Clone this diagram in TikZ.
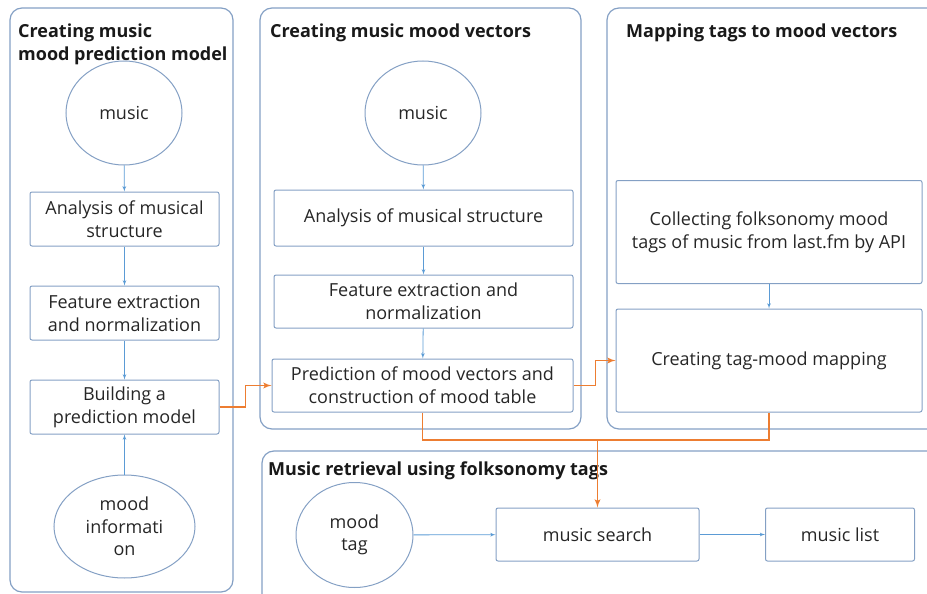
\documentclass[tikz,border=0pt]{standalone}
\usepackage{fontspec}
\setmainfont{Open Sans}
\usepackage{tikz}
\usetikzlibrary{positioning,arrows,calc,shapes.geometric}
\definecolor{boxline}{RGB}{132,160,196}
\definecolor{flowblue}{RGB}{91,155,213}
\definecolor{feedorange}{RGB}{237,125,49}
\tikzset{
    panel/.style = {
        draw=boxline,
        rounded corners=12pt,
        line width=1.2pt
    },
    title/.style = {
        font=\fontsize{18}{23}\selectfont\bfseries,
        text=black!90,
        align=left,
        inner sep=0pt,
        anchor=north west
    },
    block/.style = {
        draw=boxline,
        shape=rectangle,
        rounded corners=2pt,
        line width=1pt,
        align=center,
        text=black!85,
        font=\fontsize{18}{23}\selectfont,
        inner sep=0pt
    },
    bubble/.style = {
        draw=boxline,
        shape=ellipse,
        line width=1pt,
        align=center,
        text=black!85,
        font=\fontsize{18}{22.5}\selectfont,
        inner sep=0pt
    },
    link/.style = {
        draw=flowblue,
        line width=0.8pt
    },
    feed/.style = {
        draw=feedorange,
        line width=1.8pt
    },
    >=latex',
}

\begin{document}
\begin{tikzpicture}[x=1pt,y=-1pt]
                \clip (0,0) rectangle (927,594);

                \draw[panel] (10,8) rectangle (233,592);
                \draw[panel] (260,8) rectangle (581,429);
                \draw[panel] (607,8) rectangle (945,429);
                \draw[panel] (262,451) rectangle (945,615);

                \node[title] (t1) at (18,24) {Creating music\\mood prediction model};
                \node[title] (t2) at (270,24) {Creating music mood vectors};
                \node[title] (t3) at (626,24) {Mapping tags to mood vectors};
                \node[title] (t4) at (268,462) {Music retrieval using folksonomy tags};

                \node[bubble, minimum width=116, minimum height=104] (music1) at (124,113) {music};
                \node[block, minimum width=189, minimum height=54] (anal1) at (124.5,219) {Analysis of musical\\structure};
                \node[block, minimum width=189, minimum height=54] (feat1) at (124.5,313) {Feature extraction\\and normalization};
                \node[block, minimum width=189, minimum height=54] (build) at (124.5,407) {Building a\\prediction model};
                \node[bubble, minimum width=141, minimum height=103] (info) at (124.5,526.5) {mood\\informati\\on};

                \node[bubble, minimum width=116, minimum height=104] (music2) at (423,113) {music};
                \node[block, minimum width=299, minimum height=56] (anal2) at (423.5,218) {Analysis of musical structure};
                \node[block, minimum width=299, minimum height=53] (feat2) at (423.5,301.5) {Feature extraction and\\normalization};
                \node[block, minimum width=301, minimum height=53] (pred) at (422.5,385.5) {Prediction of mood vectors and\\construction of mood table};

                \node[block, minimum width=306, minimum height=103] (collect) at (769,232) {Collecting folksonomy mood\\tags of music from last.fm by API};
                \node[block, minimum width=306, minimum height=103] (mapping) at (769,360.5) {Creating tag-mood mapping};

                \node[bubble, minimum width=117, minimum height=105] (tag) at (354.5,535) {mood\\tag};
                \node[block, minimum width=203, minimum height=53] (search) at (597.5,534.5) {music search};
                \node[block, minimum width=149, minimum height=53] (list) at (840,534.5) {music list};

                \coordinate (merge) at (597.5,440);

                \path[link, ->] (music1) -- (anal1);
                \path[link, ->] (anal1) -- (feat1);
                \path[link, ->] (feat1) -- (build);
                \path[link, ->] (info) -- (build);
                \path[link, ->] (music2) -- (anal2);
                \path[link, ->] (anal2) -- (feat2);
                \path[link, ->] (feat2) -- (pred);
                \path[link, ->] (collect) -- (mapping);
                \path[link, ->] (tag) -- (search);
                \path[link, ->] (search) -- (list);

                \path[feed, ->] (build.east) -- ++(26,0) |- (pred.west);
                \path[feed, ->] (pred.east) -- ++(22,0) |- (mapping.west);
                \path[feed, ->] (pred.south) |- (merge) -- (search.north);
                \path[feed] (mapping.south) |- (merge);
            \end{tikzpicture}
\end{document}
